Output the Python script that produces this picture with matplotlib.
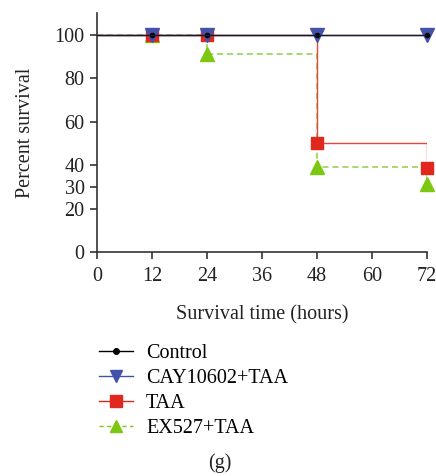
import matplotlib
matplotlib.use('Agg')
import matplotlib.pyplot as plt

plt.rcParams['font.family'] = ['Liberation Serif', 'DejaVu Serif']

hours = [0, 12, 24, 48, 72]
control = [100, 100, 100, 100, 100]
cay_taa = [100, 100, 100, 100, 100]
taa = [100, 100, 100, 50, 38.6]
ex527_taa = [100, 100, 91, 39, 31.5]

x_ticks = [0, 12, 24, 36, 48, 60, 72]
y_ticks = [0, 20, 30, 40, 60, 80, 100]

fs = 14.5

fig = plt.figure(figsize=(4.36, 4.76), dpi=100)
ax = fig.add_axes([0.2225, 0.4706, 0.7565, 0.502])

# drawn from back to front
ax.plot(hours[1:], ex527_taa[1:], color='#7cc70f', marker='^', markersize=9.5,
        linestyle='none', clip_on=False, zorder=3)
ax.plot(hours, ex527_taa, color='#8fd044', linestyle=(0, (4, 2.5)), linewidth=1.1,
        drawstyle='steps-post', zorder=2)
ax.plot(hours[1:], taa[1:], color='#e0281e', marker='s', markersize=8,
        linestyle='none', clip_on=False, zorder=4)
ax.plot(hours, taa, color='#e8453d', linewidth=1.0, drawstyle='steps-post', zorder=3)
ax.plot(hours[1:], cay_taa[1:], color='#4352a8', marker='v', markersize=10,
        linestyle='none', clip_on=False, zorder=5)
ax.plot(hours, cay_taa, color='#4352a8', linewidth=1.0, drawstyle='steps-post', zorder=5)
ax.plot(hours[1:], control[1:], color='black', marker='o', markersize=3,
        linestyle='none', clip_on=False, zorder=6)
ax.plot(hours, control, color='#1a1a2a', linewidth=1.0, drawstyle='steps-post', zorder=6)

ax.set_xlim(0, 72)
ax.set_ylim(0, 110)
ax.set_xticks(x_ticks)
ax.set_yticks(y_ticks)
for s in ['top', 'right']:
    ax.spines[s].set_visible(False)
for s in ['left', 'bottom']:
    ax.spines[s].set_color('#333333')
    ax.spines[s].set_linewidth(1.2)
ax.tick_params(direction='out', length=5, width=1.2, color='#333333',
               labelsize=fs, labelcolor='#222222', pad=4)
ax.tick_params(axis='x', pad=6)
ax.set_xlabel('Survival time (hours)', fontsize=fs, color='#222222', labelpad=14)
ax.set_ylabel('Percent survival', fontsize=fs, color='#222222', labelpad=14)

# legend handles: line plus marker
hk, = ax.plot([], [], color='black', marker='o', markersize=4, linewidth=1.0)
hb, = ax.plot([], [], color='#4352a8', marker='v', markersize=9, linewidth=1.0)
hr, = ax.plot([], [], color='#e0281e', marker='s', markersize=8, linewidth=1.0)
hg, = ax.plot([], [], color='#7cc70f', marker='^', markersize=9, linewidth=1.0,
              linestyle=(0, (3, 2.5)))
fig.legend([hk, hb, hr, hg], ['Control', 'CAY10602+TAA', 'TAA', 'EX527+TAA'],
           loc='upper left', bbox_to_anchor=(0.208, 0.295), frameon=False,
           fontsize=fs, numpoints=1, handlelength=1.7, handletextpad=0.65,
           labelspacing=0.3, borderaxespad=0)

fig.text(0.505, 0.027, '(g)', ha='center', va='center', fontsize=fs, color='#222222')

fig.savefig('out.png', dpi=100)
